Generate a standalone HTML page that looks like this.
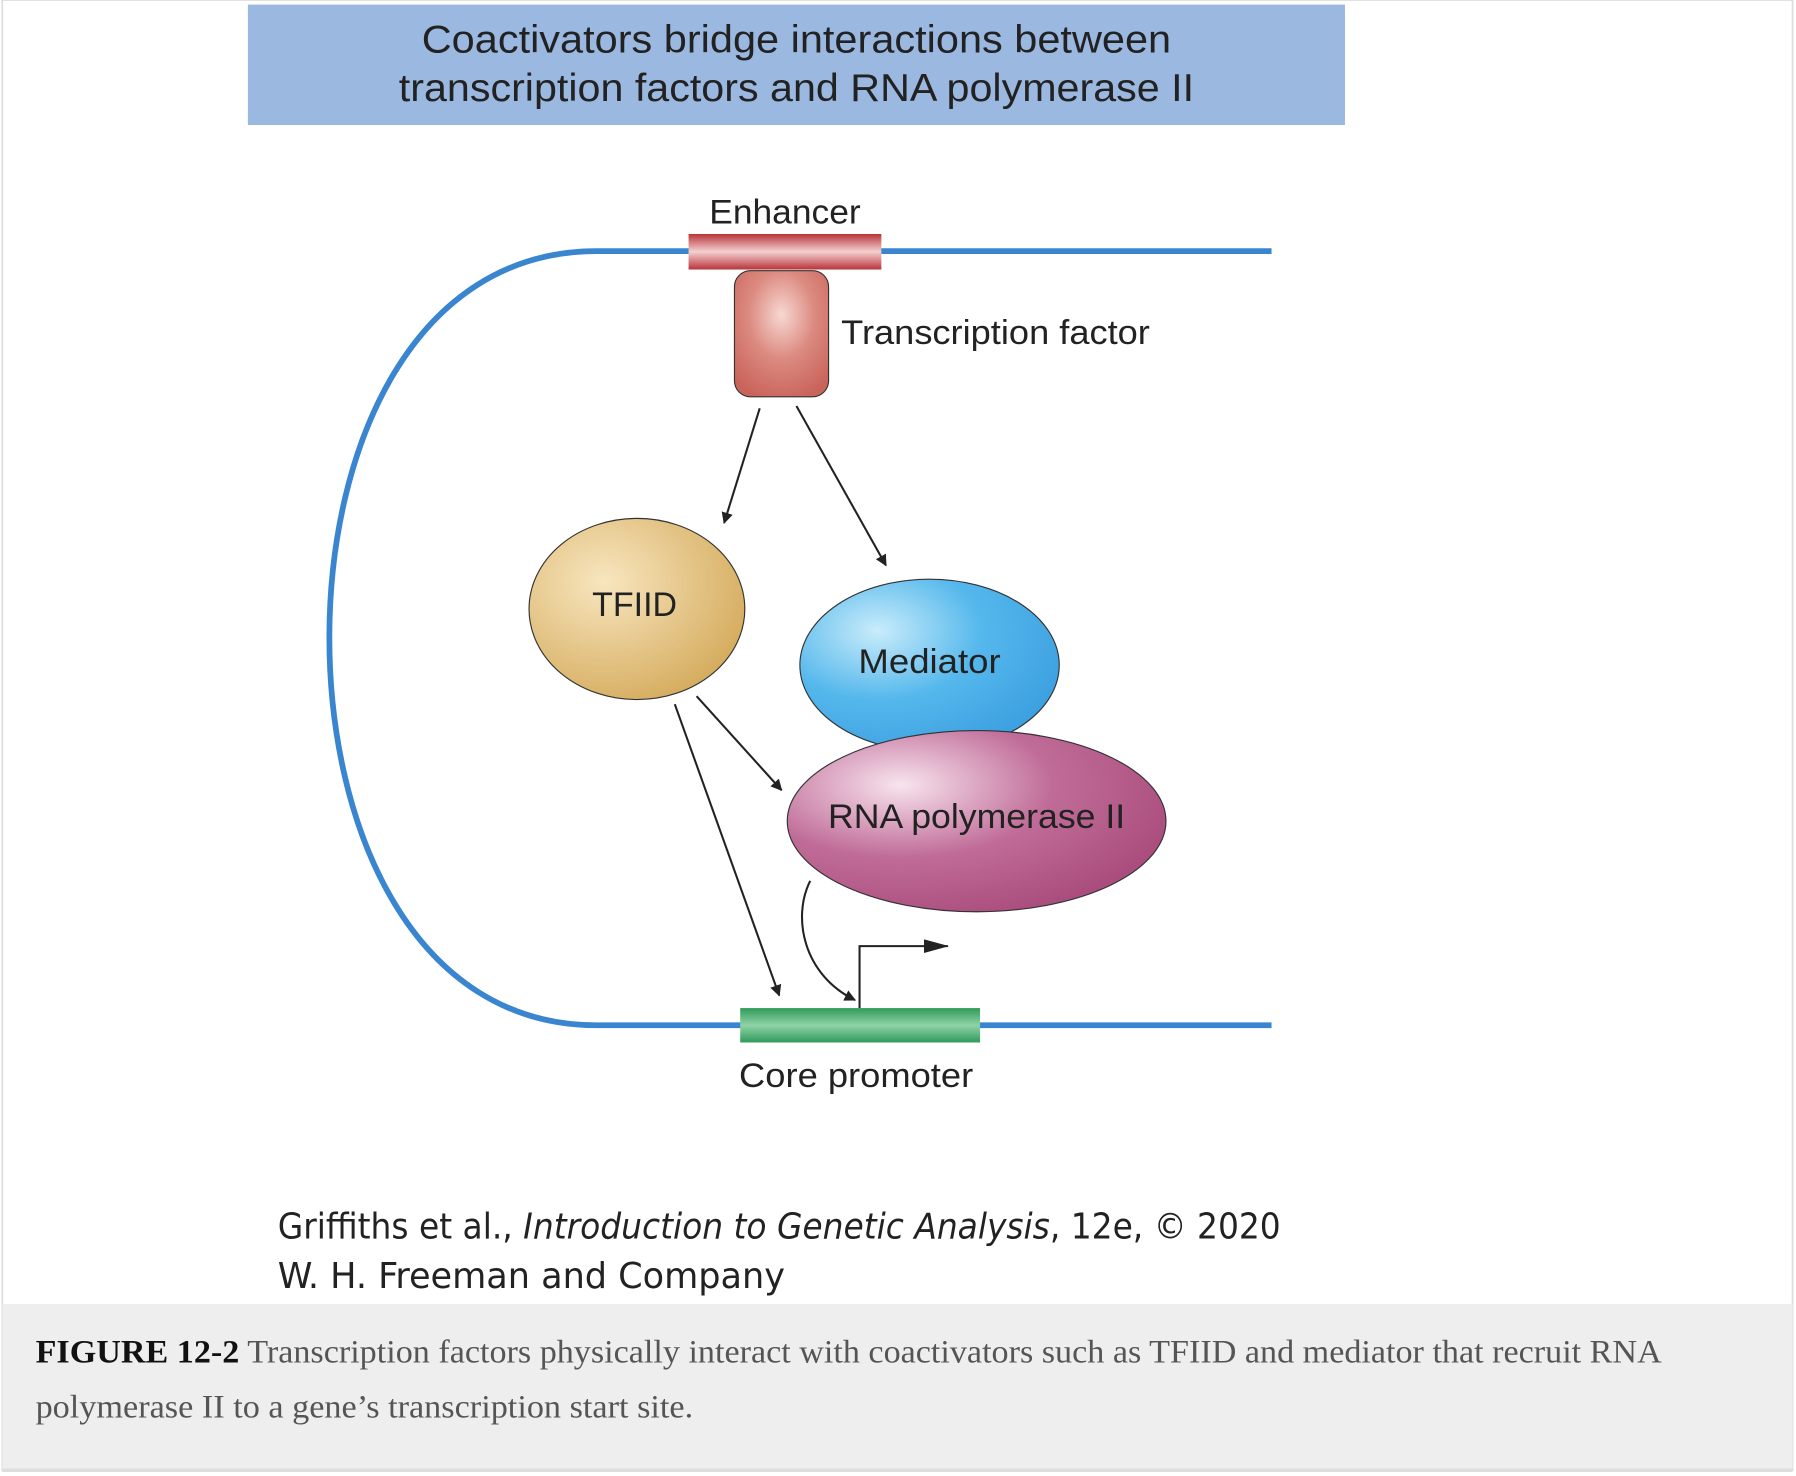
<!DOCTYPE html>
<html><head><meta charset="utf-8"><style>
html,body{margin:0;padding:0;background:#fff;}
svg{display:block;}
</style></head><body>
<svg width="1796" height="1476" viewBox="0 0 1565 1287" preserveAspectRatio="none" xmlns="http://www.w3.org/2000/svg">
<defs>
<radialGradient id="gTF" cx="0.5" cy="0.35" r="0.7"><stop offset="0" stop-color="#f7d8d2"/><stop offset="0.5" stop-color="#dc8a80"/><stop offset="1" stop-color="#c9645b"/></radialGradient>
<radialGradient id="gTFIID" cx="0.35" cy="0.35" r="0.75"><stop offset="0" stop-color="#f8e6bf"/><stop offset="1" stop-color="#d3a959"/></radialGradient>
<radialGradient id="gMed" cx="0.3" cy="0.3" r="0.8"><stop offset="0" stop-color="#c9ecfb"/><stop offset="0.5" stop-color="#55b8ec"/><stop offset="1" stop-color="#3b9ee0"/></radialGradient>
<radialGradient id="gPol" cx="0.3" cy="0.3" r="0.8"><stop offset="0" stop-color="#f8e4ee"/><stop offset="0.5" stop-color="#c06c98"/><stop offset="1" stop-color="#a84a7b"/></radialGradient>
<linearGradient id="gEnh" x1="0" y1="0" x2="0" y2="1"><stop offset="0" stop-color="#b8343a"/><stop offset="0.5" stop-color="#f4d0d0"/><stop offset="1" stop-color="#b8343a"/></linearGradient>
<linearGradient id="gCore" x1="0" y1="0" x2="0" y2="1"><stop offset="0" stop-color="#2f9a5a"/><stop offset="0.5" stop-color="#8fd3a6"/><stop offset="1" stop-color="#2f9a5a"/></linearGradient>
<marker id="ah" markerWidth="10" markerHeight="10" refX="9" refY="5" orient="auto" markerUnits="userSpaceOnUse"><path d="M0,0 L10,5 L0,10 z" fill="#222"/></marker>
<marker id="ah2" markerWidth="22" markerHeight="12" refX="21" refY="6" orient="auto" markerUnits="userSpaceOnUse"><path d="M0,0 L22,6 L0,12 z" fill="#222"/></marker>
</defs>
<rect x="2" y="0" width="1560" height="1282" fill="#fff" stroke="#ddd" stroke-width="1.5"/>
<rect x="216" y="4" width="956" height="105" fill="#9bb8e0"/>
<g font-family="Liberation Sans, sans-serif" fill="#222">
<text x="694" y="46" font-size="34" text-anchor="middle" textLength="653" lengthAdjust="spacingAndGlyphs">Coactivators bridge interactions between</text>
<text x="694" y="88" font-size="34" text-anchor="middle" textLength="693" lengthAdjust="spacingAndGlyphs">transcription factors and RNA polymerase II</text>
</g>
<path d="M1108,219 L520,219 C360,219 287,390 287,556 C287,722 360,894 520,894 L1108,894" fill="none" stroke="#3a85d0" stroke-width="5"/>
<rect x="600" y="204" width="168" height="31" fill="url(#gEnh)"/>
<rect x="640" y="236" width="82" height="110" rx="14" fill="url(#gTF)" stroke="#333" stroke-width="1"/>
<g stroke="#222" stroke-width="1.8" fill="none">
<line x1="662" y1="356" x2="631" y2="456" marker-end="url(#ah)"/>
<line x1="694" y1="354" x2="772" y2="493" marker-end="url(#ah)"/>
</g>
<ellipse cx="555" cy="531" rx="94" ry="79" fill="url(#gTFIID)" stroke="#333" stroke-width="1"/>
<ellipse cx="810" cy="580" rx="113" ry="75" fill="url(#gMed)" stroke="#333" stroke-width="1"/>
<ellipse cx="851" cy="716" rx="165" ry="79" fill="url(#gPol)" stroke="#333" stroke-width="1"/>
<g stroke="#222" stroke-width="1.8" fill="none">
<line x1="607" y1="607" x2="681" y2="689" marker-end="url(#ah)"/>
<line x1="588" y1="614" x2="679" y2="868" marker-end="url(#ah)"/>
<path d="M706,768 C690,800 700,850 745,872" marker-end="url(#ah)"/>
<path d="M749,879 L749,825 L826,825" marker-end="url(#ah2)"/>
</g>
<rect x="645" y="879" width="209" height="30" fill="url(#gCore)"/>
<g font-family="Liberation Sans, sans-serif" fill="#222">
<text x="684" y="195" font-size="30" text-anchor="middle" textLength="132" lengthAdjust="spacingAndGlyphs">Enhancer</text>
<text x="733" y="300" font-size="30" textLength="269" lengthAdjust="spacingAndGlyphs">Transcription factor</text>
<text x="553" y="537" font-size="30" text-anchor="middle" textLength="74" lengthAdjust="spacingAndGlyphs">TFIID</text>
<text x="810" y="587" font-size="30" text-anchor="middle" textLength="124" lengthAdjust="spacingAndGlyphs">Mediator</text>
<text x="851" y="722" font-size="30" text-anchor="middle" textLength="259" lengthAdjust="spacingAndGlyphs">RNA polymerase II</text>
<text x="746" y="948" font-size="30" text-anchor="middle" textLength="204" lengthAdjust="spacingAndGlyphs">Core promoter</text>
</g>
<g font-family="DejaVu Sans Condensed, Liberation Sans, sans-serif" fill="#222" font-size="31">
<text x="242" y="1080" textLength="874" lengthAdjust="spacingAndGlyphs">Griffiths et al., <tspan font-style="italic">Introduction to Genetic Analysis</tspan>, 12e, © 2020</text>
<text x="242" y="1123" textLength="442" lengthAdjust="spacingAndGlyphs">W. H. Freeman and Company</text>
</g>
<rect x="2" y="1137" width="1560" height="145" fill="#eeeeee"/>
<line x1="2" y1="1282" x2="1562" y2="1282" stroke="#ddd" stroke-width="3"/>
<g font-family="Liberation Serif, serif" font-size="29" fill="#555">
<text x="31" y="1188" textLength="1417" lengthAdjust="spacingAndGlyphs"><tspan font-weight="bold" fill="#111">FIGURE 12-2</tspan> Transcription factors physically interact with coactivators such as TFIID and mediator that recruit RNA</text>
<text x="31" y="1236" textLength="573" lengthAdjust="spacingAndGlyphs">polymerase II to a gene’s transcription start site.</text>
</g>
</svg>
</body></html>
